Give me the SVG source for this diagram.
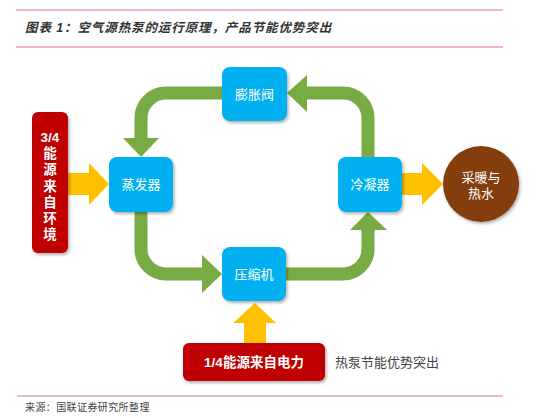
<svg xmlns="http://www.w3.org/2000/svg" width="554" height="418" viewBox="0 0 554 418">
<defs>
<filter id="sh" x="-20%" y="-20%" width="150%" height="150%">
<feDropShadow dx="1.5" dy="2" stdDeviation="1.5" flood-color="#000" flood-opacity="0.3"/>
</filter>
<style>
.cjk{font-family:"Liberation Sans","Noto Sans CJK SC",sans-serif;}
.title{font-size:12.5px;font-style:italic;font-weight:bold;fill:#333;letter-spacing:0.9px;}
.foot{font-size:10px;fill:#444;letter-spacing:0.4px;}
.rule{stroke:#e8a0b0;stroke-width:1.5;}
.blue{fill:#00b0f0;filter:url(#sh);}
.red{fill:#c00000;filter:url(#sh);}
.bt{font-size:13px;fill:#fff;text-anchor:middle;}
.rt{font-size:13.5px;fill:#fff;font-weight:bold;text-anchor:middle;}
.g{fill:none;stroke:#79ab45;stroke-width:13;}
.gh{fill:#79ab45;}
.y{fill:#ffc000;}
</style>
</defs>
<rect width="554" height="418" fill="#fff"/>
<line class="rule" x1="16" y1="10" x2="503" y2="10"/>
<line class="rule" x1="16" y1="47" x2="503" y2="47"/>
<text class="cjk title" x="25" y="32">图表 1：空气源热泵的运行原理，产品节能优势突出</text>
<line class="rule" x1="17" y1="396" x2="503" y2="396"/>
<text class="cjk foot" x="25" y="411">来源：国联证券研究所整理</text>

<g id="connectors">
<path class="g" d="M222 93 H166 A25 25 0 0 0 141 118 V139"/>
<polygon class="gh" points="123,138 159,138 141,157"/>
<path class="g" d="M368 157 V118 A25 25 0 0 0 343 93 H306"/>
<polygon class="gh" points="307,75 307,112 287,93"/>
<path class="g" d="M141 212 V249 A25 25 0 0 0 166 274 H203"/>
<polygon class="gh" points="202,255 202,293 222,274"/>
<path class="g" d="M286 274 H343 A25 25 0 0 0 368 249 V229"/>
<polygon class="gh" points="350,230 387,230 368,212"/>
<path class="y" d="M68 173 H89 V163 L109 184 L89 205 V195 H68 Z"/>
<path class="y" d="M402 173 H422 V163 L443 184 L422 205 V195 H402 Z"/>
<path class="y" d="M244 343 V323 H233 L255 303 L276 323 H266 V343 Z"/>
</g>

<g id="pengzhangfa">
<rect class="blue" x="222" y="67" width="65" height="54" rx="8"/>
<text class="cjk bt" x="254.5" y="99">膨胀阀</text>
</g>
<g id="zhengfaqi">
<rect class="blue" x="109" y="157" width="64" height="55" rx="8"/>
<text class="cjk bt" x="141" y="189">蒸发器</text>
</g>
<g id="lengningqi">
<rect class="blue" x="338" y="157" width="64" height="55" rx="8"/>
<text class="cjk bt" x="370" y="189">冷凝器</text>
</g>
<g id="yasuoji">
<rect class="blue" x="222" y="247" width="64" height="54" rx="8"/>
<text class="cjk bt" x="254" y="279">压缩机</text>
</g>
<g id="heat">
<circle cx="481" cy="184" r="38" fill="#843c0c" filter="url(#sh)"/>
<text class="cjk bt" x="481" y="182" fill="#f2e6dc">采暖与</text>
<text class="cjk bt" x="481" y="198">热水</text>
</g>
<g id="env">
<rect class="red" x="32" y="112" width="36" height="141" rx="6"/>
<text class="cjk rt" x="50" y="142">3/4</text>
<text class="cjk rt" x="50" y="158">能</text>
<text class="cjk rt" x="50" y="174">源</text>
<text class="cjk rt" x="50" y="191">来</text>
<text class="cjk rt" x="50" y="207">自</text>
<text class="cjk rt" x="50" y="223">环</text>
<text class="cjk rt" x="50" y="239">境</text>
</g>
<g id="elec">
<rect class="red" x="183" y="343" width="142" height="38" rx="6"/>
<text class="cjk rt" x="254" y="367">1/4能源来自电力</text>
</g>
<g id="note">
<text class="cjk" x="335" y="367" font-size="13" fill="#444">热泵节能优势突出</text>
</g>
</svg>
